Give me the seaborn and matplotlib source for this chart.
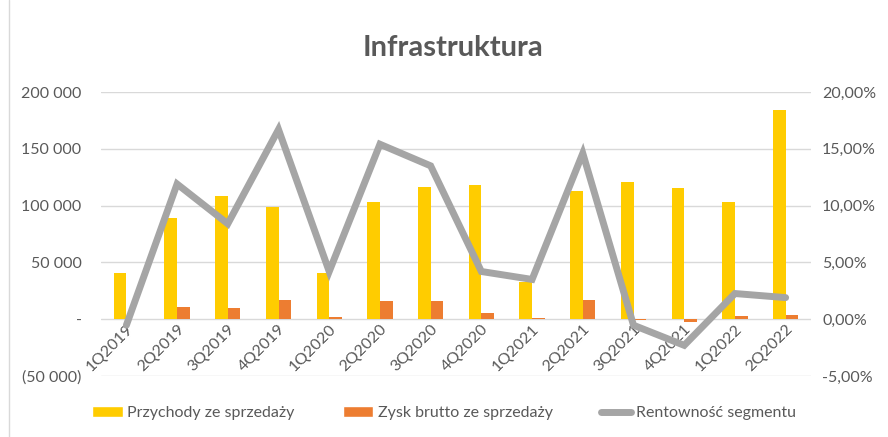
import matplotlib
matplotlib.use("Agg")
import matplotlib.pyplot as plt
import matplotlib.ticker as mticker
from matplotlib.lines import Line2D
from matplotlib.patches import Patch
import numpy as np
import pandas as pd
import seaborn as sns

quarters = ["1Q2019", "2Q2019", "3Q2019", "4Q2019", "1Q2020", "2Q2020", "3Q2020",
            "4Q2020", "1Q2021", "2Q2021", "3Q2021", "4Q2021", "1Q2022", "2Q2022"]
przychody = [41000, 88700, 108600, 98900, 40300, 102800, 116000,
             117700, 33000, 112800, 120400, 115100, 102800, 183800]
zysk = [-200, 10600, 9700, 16700, 1800, 15900, 15900,
        5300, 900, 16700, -700, -2900, 2600, 3500]
rentownosc = [-0.53, 11.9, 8.4, 16.7, 4.2, 15.4, 13.5,
              4.2, 3.5, 14.6, -0.53, -2.3, 2.26, 1.9]

s_rev = "Przychody ze sprzedaży"
s_gp = "Zysk brutto ze sprzedaży"
s_ret = "Rentowność segmentu"

yellow = "#FFCC00"
orange = "#ED7D31"
grey = "#A5A5A5"
txt = "#595959"

sns.set_style("white")
plt.rcParams["font.family"] = ["Lato", "DejaVu Sans"]

df = pd.DataFrame({
    "kwartal": quarters * 2,
    "wartosc": przychody + zysk,
    "seria": [s_rev] * len(quarters) + [s_gp] * len(quarters),
})

fig = plt.figure(figsize=(8.88, 4.37), dpi=100)
ax = fig.add_axes([101 / 888, 1 - 376 / 437, 710 / 888, 284 / 437])

sns.barplot(data=df, x="kwartal", y="wartosc", hue="seria", order=quarters,
            palette=[yellow, orange], width=0.5, ax=ax, legend=False,
            linewidth=0, saturation=1)

ax.set_ylim(-50000, 200000)
ax.set_xlim(-0.5, len(quarters) - 0.5)
ax.set_yticks(np.arange(-50000, 200001, 50000))
ax.grid(axis="y", color="#D9D9D9", linewidth=1)
ax.set_axisbelow(True)
for sp in ["top", "right", "left"]:
    ax.spines[sp].set_visible(False)
ax.spines["bottom"].set_position(("data", 0))
ax.spines["bottom"].set_visible(False)
ax.set_xlabel("")
ax.set_ylabel("")


def pln(v, pos):
    if v == 0:
        return "-"
    s = f"{abs(v):,.0f}".replace(",", " ")
    return f"({s})" if v < 0 else s


ax.yaxis.set_major_formatter(mticker.FuncFormatter(pln))
ax.tick_params(axis="y", length=0, labelsize=11.5, labelcolor=txt, pad=14)
ax.tick_params(axis="x", length=0, labelsize=11.5, labelcolor=txt, pad=2)
for lab in ax.get_xticklabels():
    lab.set_rotation(45)
    lab.set_ha("right")
    lab.set_va("top")
    lab.set_rotation_mode("anchor")

ax2 = ax.twinx()
sns.lineplot(x=np.arange(len(quarters)), y=rentownosc, ax=ax2, color=grey,
             linewidth=5, solid_joinstyle="miter")
ax2.set_ylim(-5, 20)
ax2.set_yticks(np.arange(-5, 20.1, 5))
ax2.yaxis.set_major_formatter(
    mticker.FuncFormatter(lambda v, p: f"{v:.2f}%".replace(".", ",")))
ax2.tick_params(axis="y", length=0, labelsize=11.5, labelcolor=txt, pad=8)
for sp in ax2.spines.values():
    sp.set_visible(False)

fig.text(453 / 888, 1 - 48 / 437, "Infrastruktura", ha="center", va="center",
         fontsize=21, fontweight="bold", color=txt)

handles = [Patch(facecolor=yellow, label=s_rev),
           Patch(facecolor=orange, label=s_gp),
           Line2D([0], [0], color=grey, linewidth=5, label=s_ret)]
fig.legend(handles=handles, loc="center", bbox_to_anchor=(0.5, 1 - 413 / 437),
           ncol=3, frameon=False, fontsize=11.5, labelcolor=txt,
           handlelength=1.9, handletextpad=0.3, columnspacing=3.0)

fig.add_artist(Line2D([9 / 888, 9 / 888], [0, 1], color="#D9D9D9", linewidth=1))

fig.savefig("out.png", dpi=100)
